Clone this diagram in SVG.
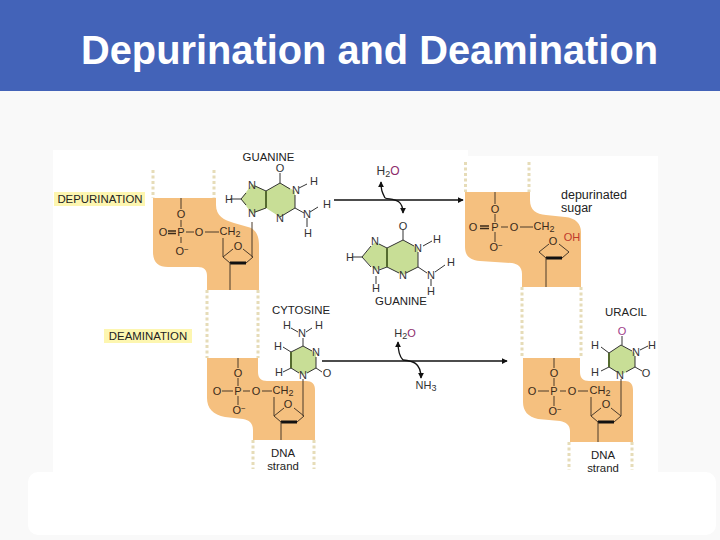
<svg xmlns="http://www.w3.org/2000/svg" width="720" height="540" viewBox="0 0 720 540">
<style>
text{font-family:"Liberation Sans",Arial,sans-serif;fill:#222;text-anchor:middle}
.lb{font-size:11.400px}
.a{font-size:11px;fill:#3a2a1a}
.h{font-size:11px;fill:#333}
.b{fill:#f5c07f}
.d{fill:none;stroke:#e6dcb8;stroke-width:3;stroke-dasharray:3 2.5}
.l{fill:none;stroke:#4a3a2a;stroke-width:1}
.k{fill:none;stroke:#333;stroke-width:1}
.t{fill:none;stroke:#111;stroke-width:3}
.r{fill:#c8de96}
.c{fill:none;stroke:#111;stroke-width:1.3}
.y{fill:#fdf6b0}
.g{fill:none;stroke:#556b2f;stroke-width:2}
.dbl{fill:none;stroke:#3a2a1a;stroke-width:1.5}
</style>
<defs>
<marker id="ah" viewBox="0 0 8 8" refX="7" refY="4" markerWidth="6" markerHeight="6" orient="auto" markerUnits="userSpaceOnUse"><path d="M0 0L8 4L0 8z" fill="#111"/></marker>
<g id="sugar"><path class="l" d="M-5 -8L-15 0L-8 6M8 6L15 0L5 -8"/><path class="t" d="M-8 6H8"/></g>
</defs>
<rect width="720" height="540" fill="#f9f9f9"/>
<rect width="720" height="91" fill="#4363b8"/>
<text x="369.500" y="64" style="font-size:39.800px;font-weight:bold;fill:#fff">Depurination and Deamination</text>
<rect x="53" y="150" width="415" height="322" fill="#fff"/>
<rect x="468" y="156" width="190" height="316" fill="#fff"/>

<g id="connectors">
<path class="c" d="M334 200H463" marker-end="url(#ah)"/>
<path class="c" d="M385 198C382 192 381 190 381 182" marker-end="url(#ah)"/>
<path class="c" d="M385 198C392 200 403 198 403 213" marker-end="url(#ah)"/>
<path class="c" d="M322 361H507" marker-end="url(#ah)"/>
<path class="c" d="M403 360C399 356 398 351 398 342" marker-end="url(#ah)"/>
<path class="c" d="M403 360C412 361 421 362 421 378" marker-end="url(#ah)"/>
</g>

<g id="strand-depurination">
<path class="d" d="M153 170V198M214 170V198M207 290V358M258 290V358"/>
<path class="b" d="M153 198H216V205C216 216 224 220 234 223L248 227C256 229 259 236 259 245V290H207V276C207 270 204 267 198 267H168C158 267 153 262 153 252Z"/>
<path class="l" d="M181 198V209M181 220V227M181 237V243M186 232H194M205 232H219"/>
<path class="dbl" d="M168 231H176M168 233.500H176"/>
<use href="#sugar" x="238" y="257"/>
<path class="l" d="M223 238V257M230 263V290M252 222V257"/>
<text class="a" x="181" y="218">O</text><text class="a" x="181" y="236">P</text><text class="a" x="163" y="236">O</text><text class="a" x="199" y="236">O</text><text class="a" x="230" y="235">CH<tspan dy="2" font-size="9">2</tspan></text><text class="a" x="182" y="255">O<tspan dy="-3" font-size="8">−</tspan></text><text class="a" x="238" y="250">O</text>
</g>

<g id="guanine-top">
<path class="r" d="M280 183L295 191V208L280 217L266 208L252 214L241 199L252 184L266 191Z"/>
<path class="k" d="M280 173V183M280 183L290 189M295 195V208L280 217M266 191L280 183M266 191L255 186M246 193L241 199L246 205M255 212L266 208M230 199H241M299 188L307 184M295 208L304 213M310 212L318 207M307 218V227"/>
<path class="g" d="M266 191V208"/>
<text class="h" x="280" y="172">O</text><text class="h" x="296" y="194">N</text><text class="h" x="314" y="185">H</text><text class="h" x="252" y="189">N</text><text class="h" x="229" y="203">H</text><text class="h" x="252" y="217">N</text><text class="h" x="280" y="222">N</text><text class="h" x="307" y="218">N</text><text class="h" x="327" y="208">H</text><text class="h" x="308" y="237">H</text>
<text class="lb" x="268.500" y="161">GUANINE</text>
</g>

<g id="guanine-free">
<path class="r" d="M403 240L418 248V267L403 275L387 267L375 270L362 257L375 242L387 248Z"/>
<path class="k" d="M403 229V240M403 240L414 246M418 252V267M418 267L406 273M399 273L387 267M387 248L403 240M387 248L379 244M371 246L362 257L371 267M379 270L387 267M352 257H362M423 246L432 241M418 267L427 273M435 272L445 265M431 279V286M376 276V284"/>
<path class="g" d="M387 248V267"/>
<text class="h" x="403" y="230">O</text><text class="h" x="418" y="252">N</text><text class="h" x="437" y="243">H</text><text class="h" x="375" y="245">N</text><text class="h" x="350" y="261">H</text><text class="h" x="376" y="274">N</text><text class="h" x="376" y="292">H</text><text class="h" x="403" y="279">N</text><text class="h" x="431" y="279">N</text><text class="h" x="451" y="266">H</text><text class="h" x="431" y="295">H</text>
<text class="lb" x="401" y="305">GUANINE</text>
</g>

<g id="water-top"><text class="h" x="388" y="175" style="font-size:12px">H<tspan dy="2" font-size="9">2</tspan><tspan dy="-2" fill="#8d2a6b">O</tspan></text></g>

<g id="strand-depurinated">
<path class="d" d="M465.500 162V192M529 162V192M522 287V358M581 287V358"/>
<path class="b" d="M465 192H530V200C530 210 536 214 546 215L565 217C576 218 581 224 581 232V287H522V274C522 267 518 264 512 263L480 261C469 260 465 255 465 247Z"/>
<path class="l" d="M495 192V204M495 214V222M495 232V242M501 227H508M520 227H533"/>
<path class="dbl" d="M480 226H489M480 228.500H489"/>
<use href="#sugar" x="554" y="252"/>
<path class="l" d="M546 258V287"/>
<text class="a" x="495" y="213">O</text><text class="a" x="495" y="231">P</text><text class="a" x="473" y="231">O</text><text class="a" x="514" y="231">O</text><text class="a" x="544" y="230">CH<tspan dy="2" font-size="9">2</tspan></text><text class="a" x="496" y="251">O<tspan dy="-3" font-size="8">−</tspan></text><text class="a" x="553" y="245">O</text>
<text class="a" x="572" y="241" style="fill:#c0392b">OH</text>
<text x="561" y="199" style="font-size:12.500px;text-anchor:start">depurinated</text>
<text x="561" y="212" style="font-size:12.500px;text-anchor:start">sugar</text>
</g>

<g id="strand-deamination">
<path class="d" d="M253 440V469M314 440V469"/>
<path class="b" d="M207 358H258V372C258 378 261 381 267 381H306C312 381 315 384 315 390V440H253V430C253 423 249 420 243 419L225 417C213 415 207 408 207 398Z"/>
<path class="l" d="M238 358V368M238 378V386M238 396V405M222 391H233M243 391H250M262 391H272"/>
<use href="#sugar" x="289" y="416"/>
<path class="l" d="M274 397V416M281 422V440M303 379V416"/>
<text class="a" x="238" y="377">O</text><text class="a" x="238" y="395">P</text><text class="a" x="217" y="395">O</text><text class="a" x="256" y="395">O</text><text class="a" x="283" y="394">CH<tspan dy="2" font-size="9">2</tspan></text><text class="a" x="239" y="414">O<tspan dy="-3" font-size="8">−</tspan></text><text class="a" x="288" y="408">O</text>
<text class="lb" x="283" y="457">DNA</text><text class="lb" x="283" y="470">strand</text>
</g>

<g id="cytosine">
<path class="r" d="M303 346L316 353V368L303 375L291 368V352Z"/>
<path class="k" d="M303 338V346M303 346L312 351M303 346L291 352M316 357V368L307 373M299 373L291 368M316 368L322 372M283 347L291 352M283 372L291 368M291 328L298 332M312 328L306 332"/>
<path class="g" d="M291 352V368"/>
<text class="h" x="287" y="329">H</text><text class="h" x="302" y="337">N</text><text class="h" x="319" y="329">H</text><text class="h" x="316" y="356">N</text><text class="h" x="278" y="350">H</text><text class="h" x="279" y="376">H</text><text class="h" x="303" y="379">N</text><text class="h" x="327" y="377">O</text>
<text class="lb" x="301" y="314">CYTOSINE</text>
</g>

<g id="water-bottom"><text class="h" x="405" y="337">H<tspan dy="2" font-size="9">2</tspan><tspan dy="-2" fill="#8d2a6b">O</tspan></text><text class="h" x="426" y="389">NH<tspan dy="2" font-size="9">3</tspan></text></g>

<g id="strand-uracil">
<path class="d" d="M569 442V470M632 442V470"/>
<path class="b" d="M523 358H580V372C580 378 583 381 589 381H625C630 381 633 384 633 390V442H570V431C570 425 566 422 560 421L538 419C528 417 523 411 523 402Z"/>
<path class="l" d="M554 358V368M554 378V386M554 396V406M538 391H549M560 391H566M578 391H588"/>
<use href="#sugar" x="606" y="416"/>
<path class="l" d="M591 397V416M598 422V442M621 379V416"/>
<text class="a" x="554" y="377">O</text><text class="a" x="554" y="395">P</text><text class="a" x="532" y="395">O</text><text class="a" x="572" y="395">O</text><text class="a" x="600" y="394">CH<tspan dy="2" font-size="9">2</tspan></text><text class="a" x="555" y="415">O<tspan dy="-3" font-size="8">−</tspan></text><text class="a" x="606" y="408">O</text>
<text class="lb" x="603" y="459">DNA</text><text class="lb" x="603" y="472">strand</text>
</g>

<g id="uracil">
<path class="r" d="M621 345L635 353V367L621 375L609 367V353Z"/>
<path class="k" d="M622 336V345M621 345L632 351M621 345L609 353M635 356V367L626 372M617 372L609 367M635 367L642 371M601 347L609 353M601 371L609 367M640 350L648 346"/>
<path class="g" d="M609 353V367"/>
<text class="h" x="622" y="335" style="fill:#a0408a">O</text><text class="h" x="636" y="356">N</text><text class="h" x="652" y="349">H</text><text class="h" x="595" y="349">H</text><text class="h" x="595" y="376">H</text><text class="h" x="620" y="379">N</text><text class="h" x="646" y="377">O</text>
<text class="lb" x="626" y="316">URACIL</text>
</g>

<g id="label-depurination"><rect class="y" x="54" y="192" width="91" height="14"/><text class="lb" x="100" y="203">DEPURINATION</text></g>
<g id="label-deamination"><rect class="y" x="104" y="329" width="88" height="14"/><text class="lb" x="148" y="340">DEAMINATION</text></g>
<rect x="28" y="472" width="688" height="63" rx="10" fill="#fff"/>
</svg>
